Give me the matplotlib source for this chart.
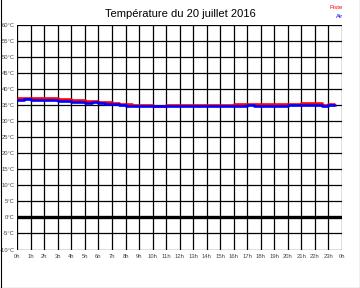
import matplotlib
matplotlib.use("Agg")
import matplotlib.pyplot as plt
from matplotlib.lines import Line2D

plt.rcParams['font.family'] = ['Liberation Sans', 'DejaVu Sans']

hours = [i * 0.5 for i in range(48)]
piste = [37.3, 37.3, 37.3, 37.3, 37.3, 37.3, 37.0, 37.0,
         36.7, 36.7, 36.3, 36.3, 36.0, 36.0, 35.8, 35.5,
         35.4, 35.2, 35.2, 35.2, 34.9, 34.9, 35.2, 35.2,
         35.2, 35.2, 35.2, 35.2, 35.2, 35.2, 35.0, 35.0,
         35.3, 35.3, 35.3, 35.3, 35.3, 35.3, 35.3, 35.3,
         35.3, 35.3, 35.6, 35.6, 35.6, 35.2, 35.3, 35.3]
air = [36.6, 36.9, 36.6, 36.6, 36.6, 36.6, 36.3, 36.3,
       36.0, 36.0, 35.7, 36.0, 35.7, 35.4, 35.4, 35.2,
       34.9, 34.7, 34.7, 34.7, 34.7, 34.7, 34.7, 34.7,
       34.7, 34.7, 34.7, 34.7, 34.7, 34.7, 34.7, 34.7,
       34.7, 34.7, 35.2, 34.9, 34.9, 34.9, 34.9, 34.9,
       35.2, 35.2, 35.2, 35.2, 35.2, 34.9, 35.2, 34.9]

y_ticks = list(range(-10, 61, 5))
y_labels = [f"{v}°C" for v in y_ticks]
x_ticks = list(range(0, 25))
x_labels = [f"{h % 24}h" for h in x_ticks]
title = "Température du 20 juillet 2016"

fig = plt.figure(figsize=(3.6, 2.88), dpi=100)
ax = fig.add_axes([17.3 / 360, 1 - 249.5 / 288, (342 - 17.3) / 360, (249.5 - 25.3) / 288])
ax.set_xlim(0, 24)
ax.set_ylim(-10, 60)

for t in x_ticks:
    ax.axvline(t, color='black', lw=0.9, zorder=1)
for v in y_ticks:
    ax.axhline(v, color='black', lw=0.9, zorder=1)
ax.axhline(0, color='black', lw=2.4, zorder=2)

ax.plot(hours, piste, color='#ff0000', lw=1.9, drawstyle='steps-post', zorder=3, solid_capstyle='butt')
ax.plot(hours, air, color='#0000ff', lw=1.9, drawstyle='steps-post', zorder=4, solid_capstyle='butt')

for s in ax.spines.values():
    s.set_visible(False)
ax.set_xticks(x_ticks)
ax.set_xticklabels(x_labels)
ax.set_yticks(y_ticks)
ax.set_yticklabels(y_labels)
ax.tick_params(axis='both', length=0, labelsize=4.2, colors='#444444', pad=3.5)
ax.tick_params(axis='y', pad=2)

fig.text(0.5, 1 - 14 / 288, title, ha='center', va='center', fontsize=8)
fig.text(343 / 360, 1 - 7.5 / 288, "Piste", ha='right', va='center', fontsize=4.2, color='#ff0000')
fig.text(343 / 360, 1 - 16 / 288, "Air", ha='right', va='center', fontsize=4.2, color='#0000ff')

# outer frame (left, bottom, right)
for xs, ys in [([0.5 / 360, 0.5 / 360], [0, 1]), ([0, 1], [0.5 / 288, 0.5 / 288]), ([359.5 / 360, 359.5 / 360], [0, 1])]:
    fig.lines.append(Line2D(xs, ys, transform=fig.transFigure, color='black', lw=0.8))

fig.savefig("out.png", dpi=100)
